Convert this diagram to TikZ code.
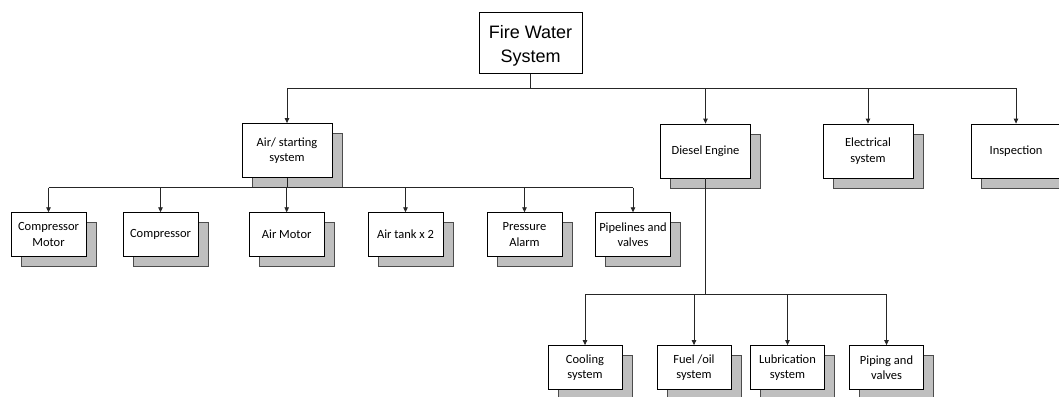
\documentclass[tikz,border=0pt]{standalone}
\usepackage{fontspec}
\setmainfont{Carlito}
\newfontfamily\arialf{Liberation Sans}
\usetikzlibrary{arrows.meta,shadows}
\begin{document}
\begin{tikzpicture}[x=1pt,y=-1pt,
  box/.style={draw=black, line width=0.8pt, fill=white, align=center, inner sep=1pt,
    font=\fontsize{12.5}{15.5}\selectfont,
    general shadow={shadow xshift=10pt, shadow yshift=-10pt, fill=gray!50, draw=gray!60!black, line width=0.5pt}},
  lone/.style={box, minimum width=90pt, minimum height=54pt},
  ltwo/.style={box, minimum width=75pt, minimum height=44pt},
  topbox/.style={draw=black, line width=0.8pt, fill=white, minimum width=103pt, minimum height=61pt},
  toptext/.style={align=center, inner sep=0pt, font=\arialf\fontsize{18}{24}\selectfont},
  conn/.style={line width=0.8pt, draw=black!85},
  arr/.style={conn, -{Triangle[length=5pt,width=4.5pt]}}
]
\useasboundingbox (0,0) rectangle (1059,396);
% top
\node[topbox] (fws) at (530.5,42.7) {};
\node[toptext] (fwst) at ([yshift=-3pt]fws.center) {Fire Water\\System};
% level 1
\node[lone] (air) at (287,150.5) {Air/ starting\\system};
\node[lone] (die) at (705.5,151) {Diesel Engine};
\node[lone] (ele) at (868,151) {Electrical\\system};
\node[lone] (ins) at (1016,151) {Inspection};
% level 2
\node[ltwo] (cm) at (48.5,234.7) {Compressor\\Motor};
\node[ltwo] (co) at (160.5,234.7) {Compressor};
\node[ltwo] (am) at (286.7,234.7) {Air Motor};
\node[ltwo] (at) at (405.5,234.7) {Air tank x 2};
\node[ltwo] (pa) at (524.5,234.7) {Pressure\\Alarm};
\node[ltwo] (pv) at (633,234.7) {Pipelines and\\valves};
% level 3
\node[ltwo, minimum width=74pt] (cs) at (585,367.5) {Cooling\\system};
\node[ltwo, minimum width=74pt] (fo) at (694,367.5) {Fuel /oil\\system};
\node[ltwo, minimum width=74pt] (lu) at (787.5,367.5) {Lubrication\\system};
\node[ltwo, minimum width=74pt] (pi) at (886.5,367.5) {Piping and\\valves};
% junction coordinates
\coordinate (j1) at (530.5,88.3);
\coordinate (j2) at (287,187.5);
\coordinate (j3) at (705.5,294);
% connectors level 1
\draw[conn] (fws.south) -- (j1);
\draw[conn] (air |- j1) -- (ins |- j1);
\foreach \n in {air,die,ele,ins} \draw[arr] (\n |- j1) -- (\n.north);
% connectors level 2
\draw[conn] (air.south) -- (j2);
\draw[conn] (cm |- j2) -- (pv |- j2);
\foreach \n in {cm,co,am,at,pa,pv} \draw[arr] (\n |- j2) -- (\n.north);
% connectors level 3
\draw[conn, line width=1.8pt] (die.south) -- (j3);
\draw[conn] (cs |- j3) -- (pi |- j3);
\foreach \n in {cs,fo,lu,pi} \draw[arr] (\n |- j3) -- (\n.north);
\end{tikzpicture}
\end{document}
